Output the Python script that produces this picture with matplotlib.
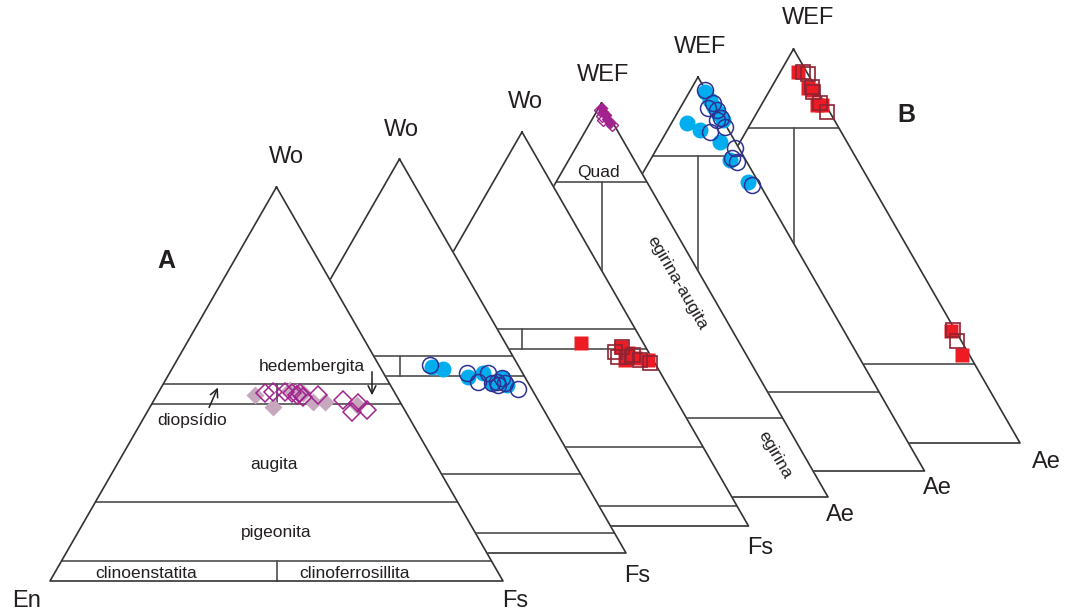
import numpy as np
import matplotlib.pyplot as plt

# Piroxenios: diagrama Wo-En-Fs (A) e diagrama WEF-Jd-Ae (B), em perspectiva escalonada

# Wo-En-Fs, triangulo da frente (losangos)
t1_fill_wo = [47.2, 44.2, 48.5, 48.0, 47.7, 45.4, 45.4, 44.7]
t1_fill_fs = [21.6, 27.1, 28.8, 30.5, 31.9, 35.4, 38.0, 45.5]
t1_open_wo = [47.7, 48.0, 48.0, 47.7, 47.2, 47.7, 46.7, 47.2, 45.9, 42.9, 45.2, 43.4]
t1_open_fs = [23.6, 25.2, 27.9, 29.6, 30.9, 31.3, 32.5, 35.6, 41.7, 45.2, 45.4, 48.3]

# Wo-En-Fs, segundo triangulo (circulos)
t2_fill_wo = [47.2, 46.7, 44.7, 45.7, 43.1, 44.4, 42.6]
t2_fill_fs = [33.6, 36.2, 42.8, 45.6, 48.8, 50.6, 52.4]
t2_open_wo = [47.7, 45.7, 43.4, 45.7, 43.1, 43.4, 44.4, 43.1, 41.6, 42.6]
t2_open_fs = [32.9, 42.1, 45.6, 46.7, 48.8, 49.8, 50.4, 51.7, 55.4, 50.4]

# Wo-En-Fs, terceiro triangulo (quadrados)
t3_fill_wo = [46.4, 45.4, 43.9, 42.6, 42.1, 42.1]
t3_fill_fs = [39.8, 49.2, 51.5, 53.6, 56.8, 51.7]
t3_open_wo = [44.2, 45.4, 42.9, 43.4, 42.1, 41.4, 42.9]
t3_open_fs = [48.4, 49.4, 51.7, 52.8, 55.0, 57.6, 49.7]

# WEF-Jd-Ae, quarto triangulo (losangos pequenos)
t4_fill_wef = [98.8, 97.8, 97.0, 96.0, 95.0]
t4_fill_ae = [0.6, 1.4, 2.4, 3.2, 4.4]
t4_open_wef = [95.8, 96.8, 94.4, 98.2]
t4_open_ae = [2.4, 1.6, 5.2, 0.6]

# WEF-Jd-Ae, quinto triangulo (circulos)
t5_fill_wef = [96.2, 94.2, 92.4, 90.8, 89.1, 88.3, 86.5, 83.5, 78.9, 73.4, 90.9]
t5_fill_ae = [3.4, 5.5, 7.3, 9.0, 10.9, 3.4, 7.1, 13.1, 17.6, 24.3, 9.0]
t5_open_wef = [96.7, 92.1, 93.3, 91.5, 89.7, 89.1, 87.3, 86.0, 82.0, 78.4, 72.6, 79.4]
t5_open_ae = [3.1, 6.1, 6.7, 8.5, 10.3, 9.7, 12.3, 9.6, 17.2, 19.4, 25.6, 17.8]

# WEF-Jd-Ae, sexto triangulo (quadrados)
t6_fill_wef = [94.2, 90.1, 89.6, 85.8, 85.8, 28.4, 22.3]
t6_fill_ae = [3.9, 8.15, 9.3, 12.3, 13.4, 70.6, 76.0]
t6_open_wef = [94.2, 93.6, 90.4, 89.1, 84.0, 86.3, 25.9, 28.7]
t6_open_ae = [5.0, 6.4, 8.9, 9.8, 15.4, 12.6, 73.1, 70.9]

# vertices
apex_names = ['Wo', 'Wo', 'Wo', 'WEF', 'WEF', 'WEF']
right_names = ['Fs', 'Fs', 'Fs', 'Ae', 'Ae', 'Ae']

# posicao de cada triangulo na figura: centro da base (x) e altura da base (y)
centers = [276.5, 399.5, 522, 601.5, 698, 793.5]
bases = [581, 553, 526, 497, 471, 443]
W = 453.0
H = 394.0

# onde ficam os nomes dos vertices
apex_label_pos = [(286, 157), (401, 130), (525, 102), (603, 75), (700, 47), (808, 18)]
right_label_pos = [(515, 601), (637, 576), (760, 548), (840, 515), (937, 488), (1046, 462)]

ink = '#231f20'
edge = '#333333'
inner = '#4d4d4d'

plt.rcParams['font.family'] = ['Liberation Sans', 'DejaVu Sans']

fig = plt.figure(figsize=(10.65, 6.14), dpi=100)
ax = fig.add_axes([0, 0, 1, 1])
ax.set_xlim(0, 1065)
ax.set_ylim(614, 0)
ax.axis('off')


def to_xy(i, top, right):
    # top = Wo ou WEF (%), right = Fs ou Ae (%)
    top = np.asarray(top) / 100.0
    right = np.asarray(right) / 100.0
    x = centers[i] - W / 2 + (right + top / 2) * W
    y = bases[i] - top * H
    return x, y


def hline(i, top, z, color=inner, lw=1.2):
    # linha horizontal de Wo (ou WEF) constante, de lado a lado
    xa, ya = to_xy(i, top, 0)
    xb, yb = to_xy(i, top, 100 - top)
    ax.plot([xa, xb], [ya, yb], color=color, lw=lw, zorder=z, solid_capstyle='butt')


def vline(i, top_from, top_to, z):
    # linha onde En = Fs (ou Jd = Ae)
    xa, ya = to_xy(i, top_from, (100 - top_from) / 2)
    xb, yb = to_xy(i, top_to, (100 - top_to) / 2)
    ax.plot([xa, xb], [ya, yb], color=inner, lw=1.2, zorder=z)


def triangle(i, z):
    xs, ys = to_xy(i, [100, 0, 0, 100], [0, 0, 100, 0])
    ax.fill(xs, ys, color='white', zorder=z)
    ax.plot(xs, ys, color=edge, lw=1.2, zorder=z + 2)


# cada triangulo de tras para frente, para que o da frente esconda os de tras
for i in range(5, -1, -1):
    z = 10 * (6 - i)
    triangle(i, z)
    if i < 3:
        for lvl in [50, 45, 20, 5]:
            hline(i, lvl, z + 1)
        vline(i, 50, 45, z + 1)
        vline(i, 5, 0, z + 1)
    else:
        hline(i, 80, z + 1)
        hline(i, 20, z + 1)
        vline(i, 80, 0, z + 1)

# marcadores de cada triangulo
x, y = to_xy(0, t1_fill_wo, t1_fill_fs)
ax.plot(x, y, 'D', ms=9.5, mfc='#c6a7bd', mec='none', ls='none', zorder=63)
x, y = to_xy(0, t1_open_wo, t1_open_fs)
ax.plot(x, y, 'D', ms=9.5, mfc='none', mec='#a3238e', mew=1.1, ls='none', zorder=64)

x, y = to_xy(1, t2_fill_wo, t2_fill_fs)
ax.plot(x, y, 'o', ms=11.5, mfc='#00aeef', mec='none', ls='none', zorder=53)
x, y = to_xy(1, t2_open_wo, t2_open_fs)
ax.plot(x, y, 'o', ms=11.5, mfc='none', mec='#2e3192', mew=1.1, ls='none', zorder=54)

x, y = to_xy(2, t3_fill_wo, t3_fill_fs)
ax.plot(x, y, 's', ms=10.5, mfc='#ed1c24', mec='none', ls='none', zorder=43)
x, y = to_xy(2, t3_open_wo, t3_open_fs)
ax.plot(x, y, 's', ms=10.5, mfc='none', mec='#8f2332', mew=1.2, ls='none', zorder=44)

x, y = to_xy(3, t4_fill_wef, t4_fill_ae)
ax.plot(x, y, 'D', ms=6, mfc='#a3238e', mec='none', ls='none', zorder=33)
x, y = to_xy(3, t4_open_wef, t4_open_ae)
ax.plot(x, y, 'D', ms=6, mfc='none', mec='#a3238e', mew=1.0, ls='none', zorder=34)

x, y = to_xy(4, t5_fill_wef, t5_fill_ae)
ax.plot(x, y, 'o', ms=11.5, mfc='#00aeef', mec='none', ls='none', zorder=23)
x, y = to_xy(4, t5_open_wef, t5_open_ae)
ax.plot(x, y, 'o', ms=11.5, mfc='none', mec='#2e3192', mew=1.1, ls='none', zorder=24)

x, y = to_xy(5, t6_fill_wef, t6_fill_ae)
ax.plot(x, y, 's', ms=10.5, mfc='#ed1c24', mec='none', ls='none', zorder=13)
x, y = to_xy(5, t6_open_wef, t6_open_ae)
ax.plot(x, y, 's', ms=10.5, mfc='none', mec='#8f2332', mew=1.2, ls='none', zorder=14)

# nomes dos vertices
vsize = 17
for i in range(6):
    ax.text(*apex_label_pos[i], apex_names[i], fontsize=vsize, color=ink,
            ha='center', va='center', zorder=80)
    ax.text(*right_label_pos[i], right_names[i], fontsize=vsize, color=ink,
            ha='center', va='center', zorder=80)
ax.text(27, 601, 'En', fontsize=vsize, color=ink, ha='center', va='center', zorder=80)

ax.text(166, 261, 'A', fontsize=18, fontweight='bold', color=ink, ha='center', va='center', zorder=80)
ax.text(906, 115, 'B', fontsize=18, fontweight='bold', color=ink, ha='center', va='center', zorder=80)

# campos do diagrama A
fsize = 12.5
ax.text(312, 367, 'hedembergita', fontsize=fsize, color=ink, ha='center', va='center', zorder=80)
ax.text(192, 420, 'diopsídio', fontsize=fsize, color=ink, ha='center', va='center', zorder=80)
ax.text(274, 464, 'augita', fontsize=fsize, color=ink, ha='center', va='center', zorder=80)
ax.text(276, 533, 'pigeonita', fontsize=fsize, color=ink, ha='center', va='center', zorder=80)
ax.text(146, 573, 'clinoenstatita', fontsize=fsize, color=ink, ha='center', va='center', zorder=80)
ax.text(354, 573, 'clinoferrosillita', fontsize=fsize, color=ink, ha='center', va='center', zorder=80)

ax.annotate('', xy=(219, 385), xytext=(208, 410),
            arrowprops=dict(arrowstyle='->', color=ink, lw=1.1, mutation_scale=14), zorder=80)
ax.annotate('', xy=(372, 398), xytext=(372, 369),
            arrowprops=dict(arrowstyle='->', color=ink, lw=1.1, mutation_scale=14), zorder=80)

# campos do diagrama B
ax.text(598, 172, 'Quad', fontsize=fsize, color=ink, ha='center', va='center', zorder=80)
ax.text(677, 283, 'egirina-augita', fontsize=fsize, color=ink, rotation=-60,
        rotation_mode='anchor', ha='center', va='center', zorder=80)
ax.text(775, 455, 'egirina', fontsize=fsize, color=ink, rotation=-60,
        rotation_mode='anchor', ha='center', va='center', zorder=80)

plt.savefig('out.png', dpi=100)
